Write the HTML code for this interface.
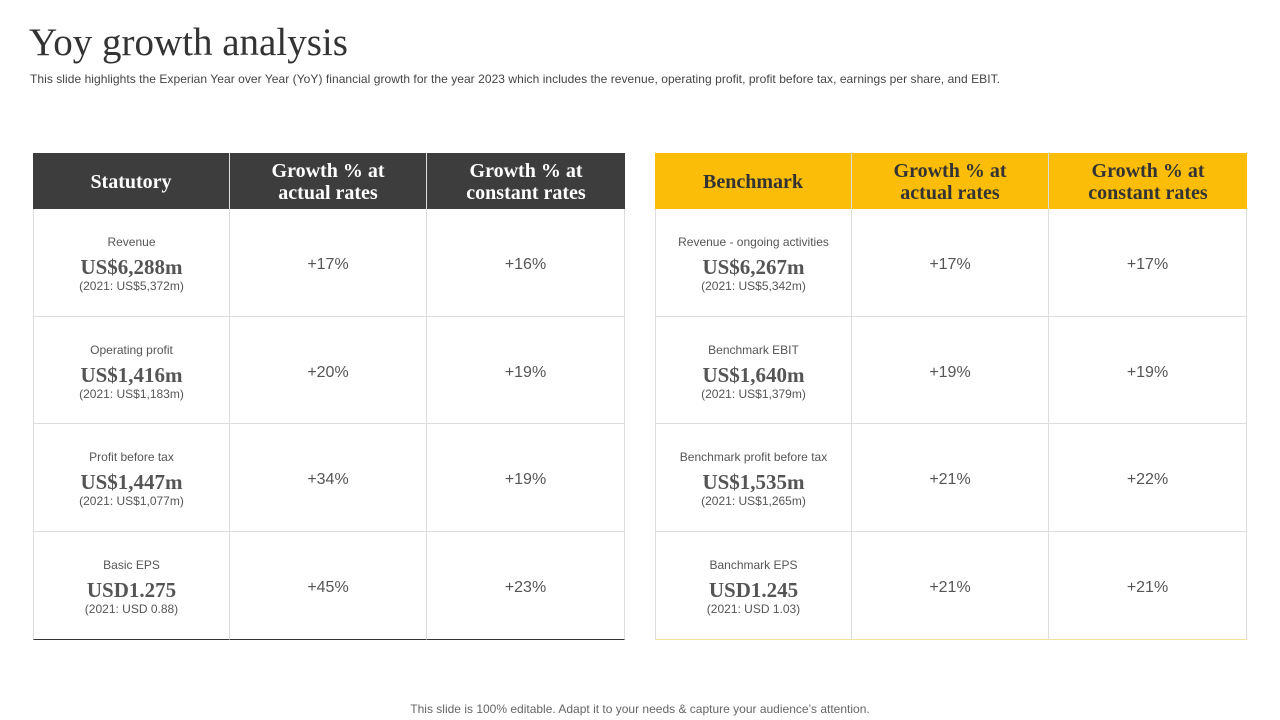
<!DOCTYPE html>
<html><head><meta charset="utf-8"><style>
body{margin:0;width:1280px;height:720px;background:#fff;position:relative;overflow:hidden;font-family:"Liberation Sans",sans-serif}
.abs{position:absolute}
h1{position:absolute;left:29px;top:20px;margin:0;font:400 39px "Liberation Serif",serif;color:#333}
.sub{left:30px;top:72px;font-size:12px;color:#444;letter-spacing:0.05px}
.tbl{position:absolute;top:153px;width:592px;height:487px}
.hd{position:absolute;top:0;height:56px;display:flex;align-items:center;justify-content:center;text-align:center;font:700 20px/22px "Liberation Serif",serif;box-sizing:border-box;padding-top:1px}
.cell{position:absolute;box-sizing:border-box;border-right:1px solid #ddd;border-bottom:1px solid #ddd;text-align:center;color:#555}
.lab{position:absolute;left:0;right:0;top:26px;font-size:12px;color:#555}
.big{position:absolute;left:0;right:0;top:46px;font:700 21px "Liberation Serif",serif;color:#555}
.sm{position:absolute;left:0;right:0;top:70px;font-size:12px;color:#555}
.pct{position:absolute;left:0;right:0;top:47px;font-size:16px;color:#555}
.foot{left:0;right:0;top:702px;text-align:center;font-size:12px;color:#666}
</style></head><body>
<h1>Yoy growth analysis</h1>
<div class="abs sub">This slide highlights the Experian Year over Year (YoY) financial growth for the year 2023 which includes the revenue, operating profit, profit before tax, earnings per share, and EBIT.</div>
<div class="tbl" id="t1" style="left:33px"></div>
<div class="tbl" id="t2" style="left:655px"></div>
<div class="abs foot">This slide is 100% editable. Adapt it to your needs &amp; capture your audience’s attention.</div>
<script>
const heads1=["Statutory","Growth % at<br>actual rates","Growth % at<br>constant rates"];
const heads2=["Benchmark","Growth % at<br>actual rates","Growth % at<br>constant rates"];
const rows1=[["Revenue","US$6,288m","(2021: US$5,372m)","+17%","+16%"],["Operating profit","US$1,416m","(2021: US$1,183m)","+20%","+19%"],["Profit before tax","US$1,447m","(2021: US$1,077m)","+34%","+19%"],["Basic EPS","USD1.275","(2021: USD 0.88)","+45%","+23%"]];
const rows2=[["Revenue -  ongoing activities","US$6,267m","(2021: US$5,342m)","+17%","+17%"],["Benchmark EBIT","US$1,640m","(2021: US$1,379m)","+19%","+19%"],["Benchmark profit before tax","US$1,535m","(2021: US$1,265m)","+21%","+22%"],["Banchmark EPS","USD1.245","(2021: USD 1.03)","+21%","+21%"]];
const xs=[0,197,394],ws=[197,197,198],ys=[56,164,271,379],hs=[108,107,108,108];
function build(id,heads,rows,bg,fg,bottom){
 const t=document.getElementById(id);
 heads.forEach((h,i)=>{const d=document.createElement('div');d.className='hd';
  
  
  d.style.cssText=`left:${xs[i]}px;width:${ws[i]}px;background:${bg};color:${fg};border-right:${i<2?'1px solid #ddd':'none'}`;d.innerHTML=h;t.appendChild(d);});
 rows.forEach((r,j)=>{for(let i=0;i<3;i++){const c=document.createElement('div');c.className='cell';
  
  
  c.style.cssText=`left:${xs[i]}px;top:${ys[j]}px;width:${ws[i]}px;height:${hs[j]}px;${i==0?'border-left:1px solid #ddd;':''}${j==3?'border-bottom:1px solid '+bottom+';':''}`;
  if(i==0)c.innerHTML=`<div class="lab">${r[0]}</div><div class="big">${r[1]}</div><div class="sm">${r[2]}</div>`;
  else c.innerHTML=`<div class="pct">${r[2+i]}</div>`;
  t.appendChild(c);}});
}
build('t1',heads1,rows1,'#3d3d3d','#fff','#333');
build('t2',heads2,rows2,'#fbbd08','#333','#f1e39a');
</script>
</body></html>
